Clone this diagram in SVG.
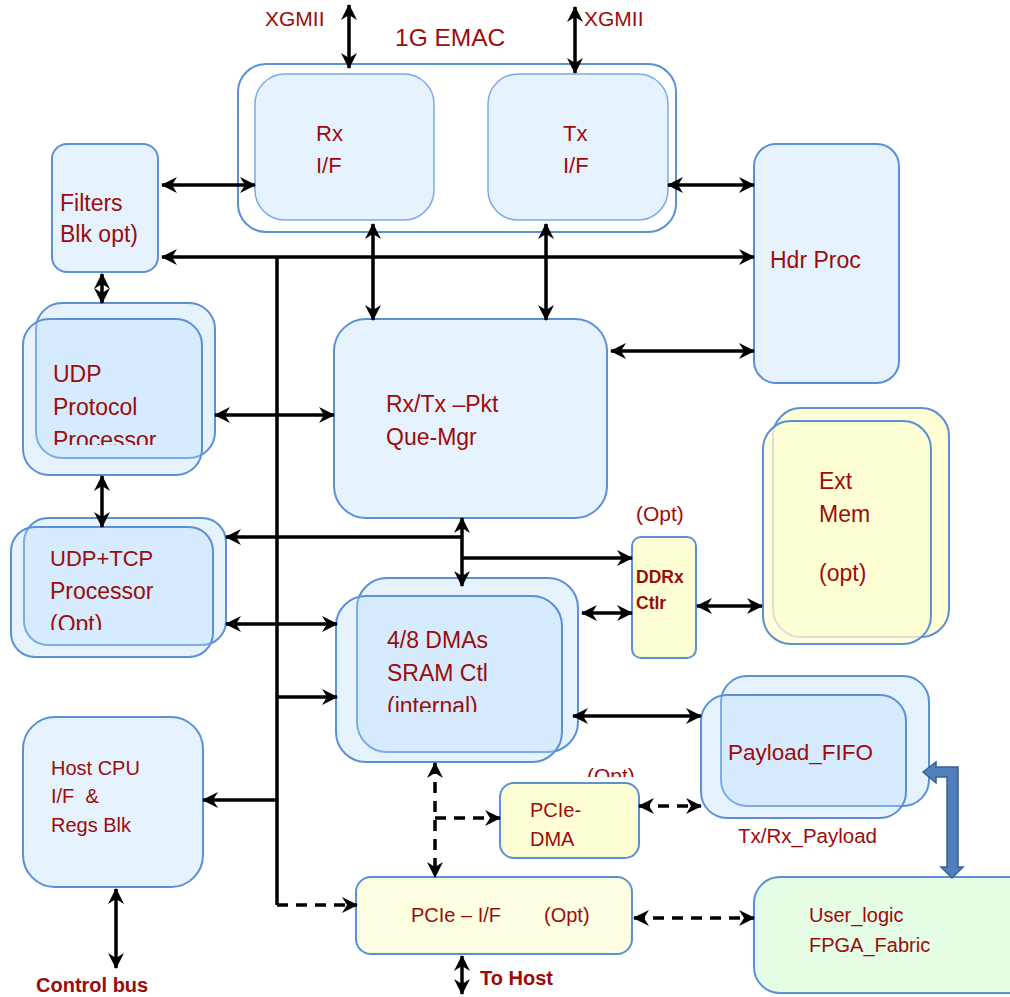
<svg xmlns="http://www.w3.org/2000/svg" width="1010" height="997" viewBox="0 0 1010 997">
<style>
text{font-family:"Liberation Sans",Arial,sans-serif;fill:#9c0b0b;font-size:23px}
.b{font-weight:bold}
.s20{font-size:20px}
.box{fill:#e6f3fe;stroke:#5b8fd6;stroke-width:2}
.inner{fill:#e6f3fe;stroke:#7aaae6;stroke-width:1.5}
.front{fill:#badefc;fill-opacity:0.36;stroke:#5b8fd6;stroke-width:2}
.yel{fill:#ffffd6;stroke:#5b8fd6;stroke-width:2}
.yfront{fill:#ffffd6;fill-opacity:0.75;stroke:#5b8fd6;stroke-width:2}
.grn{fill:#e4fde4;stroke:#5b8fd6;stroke-width:2}
.c{stroke:#000;stroke-width:3.5;fill:none}
.d{stroke:#000;stroke-width:3.5;fill:none;stroke-dasharray:11 8}
.a2{marker-start:url(#ah);marker-end:url(#ah)}
.a1{marker-end:url(#ah)}
</style>
<defs>
<marker id="ah" markerUnits="userSpaceOnUse" markerWidth="16" markerHeight="16" viewBox="0 0 16 16" refX="15" refY="8" orient="auto-start-reverse">
<path d="M0,0 L16,8 L0,16 L5,8 Z" fill="#000"/>
</marker>
<clipPath id="cUDP"><rect x="0" y="300" width="220" height="145"/></clipPath>
<clipPath id="cTCP"><rect x="0" y="520" width="230" height="110"/></clipPath>
<clipPath id="cDMA"><rect x="330" y="580" width="250" height="132"/></clipPath>
<clipPath id="cOpt"><rect x="560" y="740" width="100" height="37"/></clipPath>
</defs>

<rect width="1010" height="997" fill="#fff"/>

<g id="emac">
<rect x="238" y="64" width="438" height="168" rx="28" fill="#fff" stroke="#5b8fd6" stroke-width="2"/>
<text x="395" y="46" style="font-size:24.5px">1G EMAC</text>
</g>
<g id="rx-if">
<rect class="inner" x="255" y="74" width="179" height="146" rx="30"/>
<text x="316" y="141" style="font-size:22px">Rx</text>
<text x="316" y="173" style="font-size:22px">I/F</text>
</g>
<g id="tx-if">
<rect class="inner" x="488" y="74" width="180" height="146" rx="30"/>
<text x="563" y="141" style="font-size:22px">Tx</text>
<text x="563" y="173" style="font-size:22px">I/F</text>
</g>
<g id="xgmii-labels">
<text x="265" y="26" style="font-size:21px">XGMII</text>
<text x="584" y="26" style="font-size:21px">XGMII</text>
</g>
<g id="filters">
<rect class="box" x="52" y="144" width="106" height="128" rx="15"/>
<text x="60" y="211">Filters</text>
<text x="60" y="242">Blk opt)</text>
</g>
<g id="hdr-proc">
<rect class="box" x="754" y="144" width="145" height="239" rx="22"/>
<text x="770" y="268">Hdr Proc</text>
</g>
<g id="que-mgr">
<rect class="box" x="334" y="319" width="273" height="199" rx="32"/>
<text x="386" y="412">Rx/Tx –Pkt</text>
<text x="386" y="445">Que-Mgr</text>
</g>
<g id="udp">
<rect class="box" x="36" y="303" width="179" height="155" rx="26"/>
<rect class="front" x="23" y="319" width="179" height="156" rx="26"/>
<g clip-path="url(#cUDP)">
<text x="53" y="382">UDP</text>
<text x="53" y="415">Protocol</text>
<text x="53" y="448">Processor</text>
</g>
</g>
<g id="udp-tcp">
<rect class="box" x="24" y="518" width="202" height="127" rx="24"/>
<rect class="front" x="11" y="527" width="202" height="130" rx="24"/>
<g clip-path="url(#cTCP)">
<text x="50" y="566" style="font-size:22px">UDP+TCP</text>
<text x="50" y="599">Processor</text>
<text x="50" y="632">(Opt)</text>
</g>
</g>
<g id="dma">
<rect class="box" x="357" y="578" width="221" height="174" rx="30"/>
<rect class="front" x="336" y="596" width="226" height="166" rx="30"/>
<g clip-path="url(#cDMA)">
<text x="387" y="648">4/8 DMAs</text>
<text x="387" y="681">SRAM Ctl</text>
<text x="387" y="714">(internal)</text>
</g>
</g>
<g id="ddrx">
<rect class="yel" x="632" y="537" width="64" height="121" rx="9"/>
<text x="636" y="583" class="b" style="font-size:17.5px">DDRx</text>
<text x="636" y="609" class="b" style="font-size:17.5px">Ctlr</text>
<text x="636" y="521" style="font-size:21px">(Opt)</text>
</g>
<g id="ext-mem">
<rect class="yel" x="773" y="408" width="176" height="229" rx="28"/>
<rect class="yfront" x="763" y="421" width="168" height="223" rx="28"/>
<text x="819" y="489">Ext</text>
<text x="819" y="522">Mem</text>
<text x="819" y="581">(opt)</text>
</g>
<g id="payload-fifo">
<rect class="box" x="721" y="676" width="208" height="130" rx="26"/>
<rect class="front" x="701" y="695" width="205" height="123" rx="26"/>
<text x="728" y="760" style="font-size:22.5px">Payload_FIFO</text>
<text x="738" y="843" style="font-size:20.5px">Tx/Rx_Payload</text>
</g>
<g id="host-cpu">
<rect class="box" x="23" y="717" width="180" height="170" rx="32"/>
<text x="51" y="775" class="s20">Host CPU</text>
<text x="51" y="803" class="s20" xml:space="preserve">I/F  &amp;</text>
<text x="51" y="832" class="s20">Regs Blk</text>
<text x="36" y="992" class="b" style="font-size:20px">Control bus</text>
</g>
<g id="pcie-dma">
<rect class="yel" x="500" y="783" width="139" height="75" rx="14"/>
<text x="530" y="817" class="s20">PCIe-</text>
<text x="530" y="846" class="s20">DMA</text>
<g clip-path="url(#cOpt)"><text x="587" y="783" style="font-size:21px">(Opt)</text></g>
</g>
<g id="pcie-if">
<rect class="yel" x="356" y="877" width="276" height="77" rx="15" style="fill:#fefee2"/>
<text x="411" y="922" class="s20">PCIe – I/F</text>
<text x="544" y="922" class="s20">(Opt)</text>
<text x="480" y="985" class="b" style="font-size:20px">To Host</text>
</g>
<g id="user-logic">
<rect class="grn" x="754" y="877" width="280" height="116" rx="26"/>
<text x="809" y="922" class="s20">User_logic</text>
<text x="809" y="952" class="s20">FPGA_Fabric</text>
</g>

<g id="connectors">
<line class="c a2" x1="349" y1="5" x2="349" y2="68"/>
<line class="c a2" x1="575" y1="7" x2="575" y2="73"/>
<line class="c a2" x1="162" y1="185" x2="255" y2="185"/>
<line class="c a2" x1="162" y1="257" x2="754" y2="257"/>
<polyline class="c" points="277,257 277,905"/>
<line class="d a1" x1="277" y1="905" x2="357" y2="905"/>
<line class="c a2" x1="373" y1="224" x2="373" y2="320"/>
<line class="c a2" x1="546" y1="224" x2="546" y2="320"/>
<line class="c a2" x1="668" y1="185" x2="754" y2="185"/>
<line class="c a2" x1="611" y1="351" x2="754" y2="351"/>
<line class="c a2" x1="102" y1="274" x2="102" y2="303"/>
<line class="c a2" x1="215" y1="415" x2="334" y2="415"/>
<line class="c a2" x1="102" y1="476" x2="102" y2="527"/>
<line class="c a2" x1="462" y1="518" x2="462" y2="586"/>
<line class="c a1" x1="462" y1="537" x2="226" y2="537"/>
<line class="c a1" x1="462" y1="558" x2="632" y2="558"/>
<line class="c a2" x1="226" y1="624" x2="337" y2="624"/>
<line class="c a1" x1="277" y1="697" x2="337" y2="697"/>
<line class="c a2" x1="582" y1="613" x2="632" y2="613"/>
<line class="c a2" x1="697" y1="606" x2="762" y2="606"/>
<line class="c a2" x1="573" y1="716" x2="701" y2="716"/>
<line class="c a1" x1="277" y1="800" x2="203" y2="800"/>
<line class="c a2" x1="116" y1="889" x2="116" y2="968"/>
<line class="d a2" x1="435" y1="763" x2="435" y2="877"/>
<line class="d a1" x1="435" y1="818" x2="500" y2="818"/>
<line class="d a2" x1="639" y1="806" x2="701" y2="806"/>
<line class="d a2" x1="634" y1="918" x2="754" y2="918"/>
<line class="c a2" x1="462" y1="956" x2="462" y2="994"/>
<path d="M923,772 L936,762 L936,767 L958,767 L958,867 L963,867 L952,878 L941,867 L947,867 L947,777 L936,777 L936,783 Z" fill="#4f7fbd" stroke="#3a6090" stroke-width="1.5"/>
</g>
</svg>
